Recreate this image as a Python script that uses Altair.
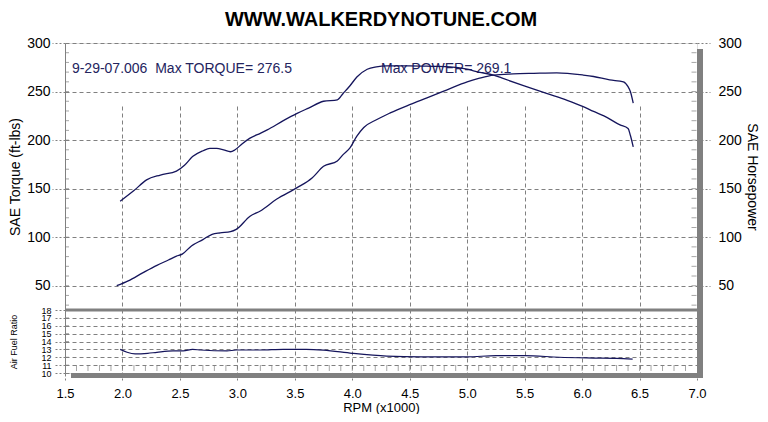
import altair as alt
import pandas as pd

# ---------------- data ----------------
rpm_torque = [1.98, 2.10, 2.21, 2.33, 2.47, 2.54, 2.61, 2.70, 2.76, 2.82, 2.88, 2.94, 2.98,
              3.04, 3.11, 3.20, 3.26, 3.40, 3.52, 3.62, 3.75, 3.87, 3.92, 3.98, 4.04, 4.13,
              4.21, 4.30, 4.50, 4.70, 4.85, 5.00, 5.10, 5.23, 5.30, 5.49, 5.69, 5.87, 6.01,
              6.10, 6.19, 6.33, 6.40, 6.42, 6.445]
torque = [137, 148, 159, 164, 168, 174, 183, 189, 191.5, 191.5, 190, 188, 190,
          196, 202, 207, 210.5, 220, 227.5, 233, 240, 241.5, 248, 256, 265, 273,
          275.5, 276.5, 276.5, 276, 275.5, 273, 270, 267, 264, 256, 248, 241, 234.5,
          229.5, 225, 215.6, 212, 205, 193]

rpm_hp = [1.95, 2.05, 2.18, 2.30, 2.40, 2.47, 2.52, 2.60, 2.70, 2.78, 2.85, 2.94, 2.99,
          3.11, 3.20, 3.34, 3.52, 3.65, 3.75, 3.87, 3.92, 3.98, 4.04, 4.10, 4.21, 4.33,
          4.50, 4.65, 4.82, 5.00, 5.10, 5.23, 5.40, 5.58, 5.78, 6.01, 6.10, 6.24, 6.36,
          6.40, 6.42, 6.445]
hp = [50, 55, 63.5, 71, 76.5, 80.5, 82.5, 91, 97.5, 103, 104.5, 105.7, 108,
      121.5, 127, 139, 151, 161, 173, 178.5, 185, 192, 204, 213, 221, 228,
      236.5, 243.5, 251.5, 260, 263.5, 267, 268.2, 268.8, 269.3, 267, 265.5, 262, 260,
      255, 250, 238]

rpm_afr = [1.98, 2.04, 2.11, 2.22, 2.30, 2.44, 2.53, 2.61, 2.68, 2.91, 2.99, 3.20,
           3.40, 3.60, 3.75, 4.00, 4.30, 4.60, 5.00, 5.25, 5.50, 5.80, 6.10, 6.30, 6.44]
afr = [13.0, 12.63, 12.42, 12.5, 12.63, 12.8, 12.8, 13.0, 12.92, 12.8, 12.92, 12.92,
       13.0, 13.0, 12.9, 12.5, 12.15, 12.05, 12.05, 12.2, 12.2, 12.0, 11.9, 11.85, 11.75]

x_ticks = [1.5, 2.0, 2.5, 3.0, 3.5, 4.0, 4.5, 5.0, 5.5, 6.0, 6.5, 7.0]
power_ticks = [50, 100, 150, 200, 250, 300]
afr_ticks = [10, 11, 12, 13, 14, 15, 16, 17, 18]

ann_rpm = [1.56, 4.25]
ann_val = [269.0, 269.0]
ann_text = ["9-29-07.006\u00a0 Max TORQUE= 276.5", "Max POWER= 269.1"]

# ---------------- styling / layout ----------------
W = 632          # plot width
H1 = 267         # power panel height
H2 = 63          # air-fuel panel height
H = H1 + H2
LINE = "#15155c"
TXT = "#24245e"
GRID = "#808080"
FONT = "Liberation Sans"

xscale = alt.Scale(domain=[1.5, 7.0], nice=False, zero=False, padding=0)


def power_scale():
    return alt.Scale(domain=[25, 300], range=[H1, 0], nice=False, zero=False, padding=0)


afr_scale = alt.Scale(domain=[10, 18], range=[H, H1], nice=False, zero=False, padding=0)

df_t = pd.DataFrame({"rpm": rpm_torque, "val": torque})
df_h = pd.DataFrame({"rpm": rpm_hp, "hp": hp})
df_a = pd.DataFrame({"rpm": rpm_afr, "afr": afr})
df_ann = pd.DataFrame({"rpm": ann_rpm, "val": ann_val, "label": ann_text})
df_minor_p = pd.DataFrame({"val": [v for v in range(30, 300, 10)]})
df_minor_x = pd.DataFrame({"rpm": [round(1.5 + i * 0.1, 1) for i in range(1, 55)]})
df_minor_a = pd.DataFrame({"afr": afr_ticks[1:-1]})
one = pd.DataFrame({"k": [0]})

x_axis = alt.Axis(values=x_ticks, format=".1f", grid=True, gridDash=[4, 3],
                  gridColor=GRID, tickDash=[3, 2], tickColor=GRID, tickSize=7,
                  domain=False, labelPadding=7, labelFontSize=13, labelFlush=False,
                  title="RPM (x1000)", titleFontSize=13, titleFontWeight="normal",
                  titlePadding=1)

left_axis = alt.Axis(orient="left", values=power_ticks, title="SAE Torque (ft-lbs)",
                     grid=True, gridDash=[4, 3], gridColor=GRID, tickDash=[2, 2],
                     tickColor=GRID, tickSize=13, labelPadding=2, domainColor=GRID,
                     labelFontSize=14, labelFlush=False, titleFontSize=14,
                     titleFontWeight="normal", titlePadding=4)

right_axis = alt.Axis(orient="right", values=power_ticks, title="SAE Horsepower",
                      grid=False, tickDash=[2, 2], tickColor=GRID, tickSize=13,
                      domain=False, labelPadding=8, labelFontSize=14, labelFlush=False,
                      titleFontSize=14, titleFontWeight="normal", titlePadding=3)

afr_axis = alt.Axis(orient="left", values=afr_ticks, grid=True, gridDash=[4, 3],
                    gridColor=GRID, tickDash=[2, 2], tickColor=GRID, tickSize=10,
                    domainColor=GRID, labelFontSize=9, labelOverlap=False,
                    labelFlush=False, labelPadding=4, title="Air Fuel Ratio",
                    titleFontSize=9, titleFontWeight="normal", titlePadding=22)

# ---------------- power (torque) group ----------------
ann = alt.Chart(df_ann).mark_text(align="left", baseline="alphabetic", fontSize=14,
                                  font=FONT, color=TXT).encode(
    x=alt.X("rpm:Q", scale=xscale, axis=x_axis),
    y=alt.Y("val:Q", scale=power_scale(), axis=left_axis),
    text="label:N")

torque_line = alt.Chart(df_t).mark_line(color=LINE, strokeWidth=1.3,
                                        interpolate="monotone").encode(
    x="rpm:Q", y="val:Q")

minor_left = alt.Chart(df_minor_p).mark_tick(orient="horizontal", size=4, thickness=1,
                                             color=GRID).encode(
    y="val:Q", x=alt.value(2))
minor_right = alt.Chart(df_minor_p).mark_tick(orient="horizontal", size=5, thickness=1,
                                              color=GRID).encode(
    y="val:Q", x=alt.value(W - 3))

sep_rule = alt.Chart(one).mark_rule(color=GRID, strokeWidth=3).encode(
    x=alt.value(0), x2=alt.value(W + 6), y=alt.value(H1))
right_bar = alt.Chart(one).mark_rule(color=GRID, strokeWidth=6).encode(
    x=alt.value(W + 3), y=alt.value(6), y2=alt.value(H + 5))
bottom_bar = alt.Chart(one).mark_rule(color=GRID, strokeWidth=5).encode(
    x=alt.value(6), x2=alt.value(W + 6), y=alt.value(H + 2.5))

power_group = alt.layer(ann, torque_line, minor_left, minor_right)

# ---------------- horsepower ----------------
hp_line = alt.Chart(df_h).mark_line(color=LINE, strokeWidth=1.3,
                                    interpolate="monotone").encode(
    x="rpm:Q",
    y=alt.Y("hp:Q", scale=power_scale(), axis=right_axis),
)

# ---------------- air fuel ratio group ----------------
afr_line = alt.Chart(df_a).mark_line(color=LINE, strokeWidth=1.2,
                                     interpolate="monotone").encode(
    x="rpm:Q",
    y=alt.Y("afr:Q", scale=afr_scale, axis=afr_axis),
)
minor_a = alt.Chart(df_minor_a).mark_tick(orient="horizontal", size=4, thickness=1,
                                          color=GRID).encode(
    y="afr:Q", x=alt.value(2))
minor_x = alt.Chart(df_minor_x).mark_tick(orient="vertical", size=6, thickness=1,
                                          color=GRID).encode(
    x="rpm:Q", y=alt.value(H - 5))

afr_group = alt.layer(afr_line, minor_a, minor_x, sep_rule, right_bar, bottom_bar)

chart = alt.layer(power_group, hp_line, afr_group).resolve_scale(
    y="independent"
).properties(
    width=W, height=H,
    autosize=alt.AutoSizeParams(type="none"),
    padding={"left": 57, "top": 35, "right": 63, "bottom": 41},
    title=alt.TitleParams("WWW.WALKERDYNOTUNE.COM", fontSize=20, fontWeight="bold",
                          font=FONT, anchor="middle", offset=6, color="black"),
).configure_view(stroke=GRID, strokeWidth=1).configure_axis(
    labelFont=FONT, titleFont=FONT, labelColor="black", titleColor="black"
).configure(background="white")

chart.save("out.html", embed_options={"renderer": "svg", "actions": False})
